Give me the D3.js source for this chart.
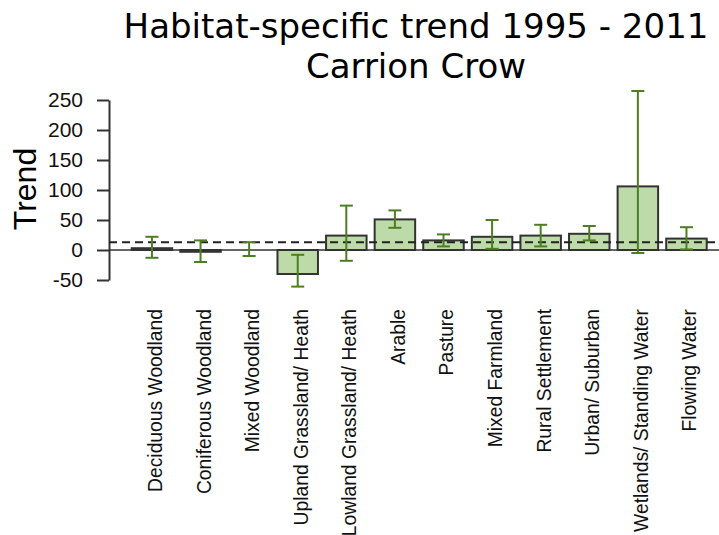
<!DOCTYPE html>
<html>
<head>
<meta charset="utf-8">
<script src="https://cdn.jsdelivr.net/npm/d3@7"></script>
<style>
  body { margin: 0; background: #fff; }
  svg { display: block; }
</style>
</head>
<body>
<div id="chart"></div>
<script>
// habitat trends
const habitats = ["Deciduous Woodland", "Coniferous Woodland", "Mixed Woodland",
    "Upland Grassland/ Heath", "Lowland Grassland/ Heath", "Arable", "Pasture",
    "Mixed Farmland", "Rural Settlement", "Urban/ Suburban",
    "Wetlands/ Standing Water", "Flowing Water"]
const trend = [3, -3, 0, -40, 24, 51, 16, 22, 24, 27, 106, 19]
const lower = [-13, -20, -10, -61, -18, 37, 6, 2, 6, 16, -5, 1]
const upper = [22, 16, 13, -8, 74, 66, 26, 50, 42, 40, 265, 38]
const overall = 13
const yTicks = [-50, 0, 50, 100, 150, 200, 250]

const W = 719, H = 535

const svg = d3.select("#chart")
    .append("svg")
    .attr("width", W)
    .attr("height", H)

const data = habitats.map((h, i) => ({name: h, value: trend[i], lo: lower[i], hi: upper[i]}))

const x = d3.scaleBand()
    .domain(habitats)
    .range([131.7, 706.7])
    .paddingInner(1 / 6)
    .paddingOuter(0)

const y = d3.scaleLinear()
    .domain([-50, 250])
    .range([280, 100])

const axisX = 109

// title
svg.append("text")
    .attr("x", 416).attr("y", 38)
    .attr("text-anchor", "middle")
    .style("font-family", "DejaVu Sans")
    .style("font-size", "34px")
    .text("Habitat-specific trend 1995 - 2011")
svg.append("text")
    .attr("x", 416).attr("y", 78)
    .attr("text-anchor", "middle")
    .style("font-family", "DejaVu Sans")
    .style("font-size", "34px")
    .text("Carrion Crow")

// y axis
const yAxis = svg.append("g")
    .attr("transform", `translate(${axisX},0)`)
    .call(d3.axisLeft(y).tickValues(yTicks).tickFormat(d => String(d))
        .tickSize(12).tickSizeOuter(0).tickPadding(14))
yAxis.select(".domain").attr("stroke", "#333").attr("stroke-width", 2)
yAxis.selectAll(".tick line").attr("stroke", "#333").attr("stroke-width", 2)
yAxis.selectAll(".tick text")
    .attr("fill", "#111")
    .style("font-family", "Liberation Sans, Arial")
    .style("font-size", "21px")

svg.append("text")
    .attr("transform", `translate(36,189) rotate(-90)`)
    .attr("text-anchor", "middle")
    .style("font-family", "Liberation Sans, Arial")
    .style("font-size", "32px")
    .text("Trend")

// bars
svg.selectAll(".bar")
    .data(data)
    .join("rect")
    .attr("class", "bar")
    .attr("x", d => x(d.name))
    .attr("width", x.bandwidth())
    .attr("y", d => y(Math.max(0, d.value)))
    .attr("height", d => Math.abs(y(d.value) - y(0)))
    .attr("fill", "#bcdba9")
    .attr("stroke", "#333")
    .attr("stroke-width", 2)

// zero line and overall trend
svg.append("line")
    .attr("x1", axisX).attr("x2", W)
    .attr("y1", y(0)).attr("y2", y(0))
    .attr("stroke", "#333").attr("stroke-width", 1.6)
svg.append("line")
    .attr("x1", axisX).attr("x2", W)
    .attr("y1", y(overall)).attr("y2", y(overall))
    .attr("stroke", "#222").attr("stroke-width", 2)
    .attr("stroke-dasharray", "8,5")

// error bars
const err = svg.append("g")
    .attr("stroke", "#4e7d23")
    .attr("stroke-width", 2)
const cx = d => x(d.name) + x.bandwidth() / 2
err.selectAll(".stem")
    .data(data)
    .join("line")
    .attr("x1", cx).attr("x2", cx)
    .attr("y1", d => y(d.hi)).attr("y2", d => y(d.lo))
err.selectAll(".capTop")
    .data(data)
    .join("line")
    .attr("x1", d => cx(d) - 6.5).attr("x2", d => cx(d) + 6.5)
    .attr("y1", d => y(d.hi)).attr("y2", d => y(d.hi))
err.selectAll(".capBot")
    .data(data)
    .join("line")
    .attr("x1", d => cx(d) - 6.5).attr("x2", d => cx(d) + 6.5)
    .attr("y1", d => y(d.lo)).attr("y2", d => y(d.lo))

// category labels
svg.selectAll(".cat")
    .data(data)
    .join("text")
    .attr("class", "cat")
    .attr("transform", d => `translate(${cx(d) + 10},309) rotate(-90)`)
    .attr("text-anchor", "end")
    .attr("fill", "#111")
    .style("font-family", "Liberation Sans, Arial")
    .style("font-size", "19.3px")
    .text(d => d.name)
</script>
</body>
</html>
